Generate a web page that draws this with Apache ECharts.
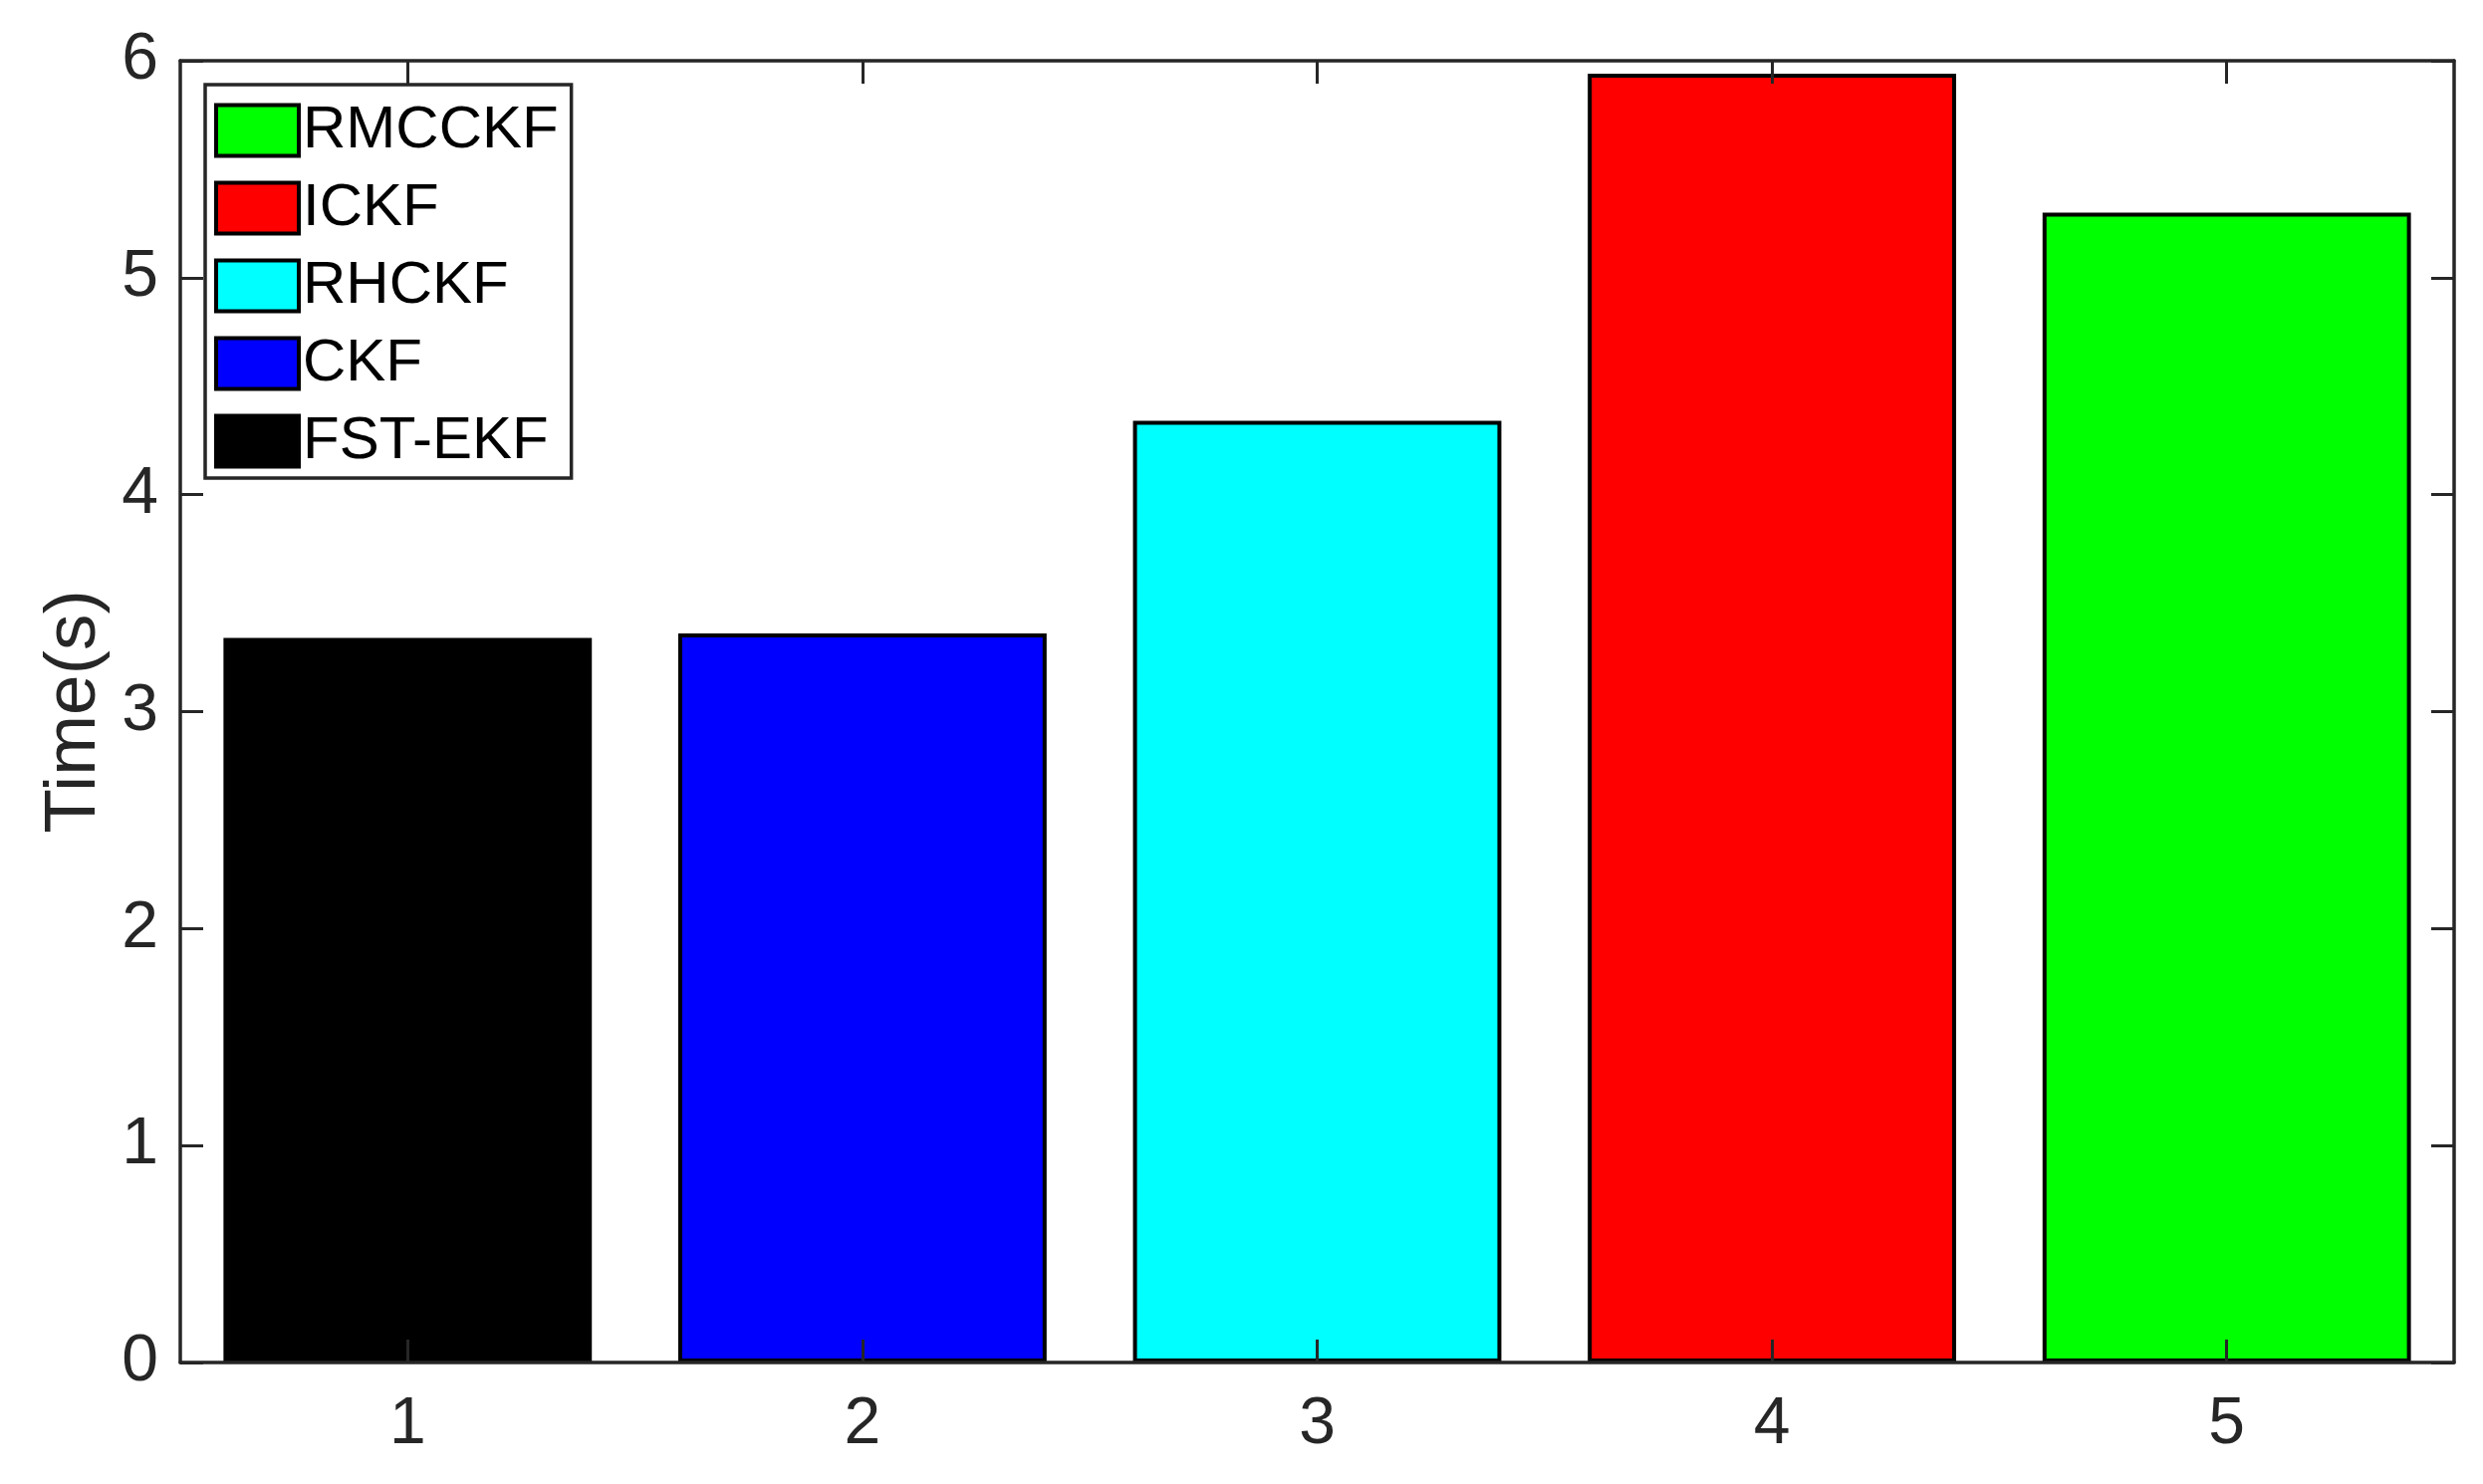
<!DOCTYPE html>
<html>
<head>
<meta charset="utf-8">
<script src="https://cdn.jsdelivr.net/npm/echarts@6/dist/echarts.min.js"></script>
<style>
html,body{margin:0;padding:0;background:#fff;}
#main{width:2493px;height:1490px;}
</style>
</head>
<body>
<div id="main"></div>
<script>
// tick labels of the x axis
var categories = ["1", "2", "3", "4", "5"];
// one bar per filter, in plotting order
var filterNames = ["FST-EKF", "CKF", "RHCKF", "ICKF", "RMCCKF"];
var filterTimes = [3.34, 3.36, 4.34, 5.94, 5.30];
var filterColors = ["#000000", "#0000ff", "#00ffff", "#ff0000", "#00ff00"];
// legend is listed top-down like the figure
var legendOrder = ["RMCCKF", "ICKF", "RHCKF", "CKF", "FST-EKF"];

var axisColor = "#262626";
var fontName = "Liberation Sans";

var myChart = echarts.init(document.getElementById("main"));

var series = [];
for (var i = 0; i < filterNames.length; i++) {
    var data = [];
    for (var j = 0; j < categories.length; j++) {
        data.push(j == i ? filterTimes[i] : "-");
    }
    series.push({
        name: filterNames[i],
        type: "bar",
        stack: "all",
        barWidth: "81%",
        data: data,
        itemStyle: {
            color: filterColors[i],
            borderColor: "#000000",
            borderWidth: 4
        },
        emphasis: {disabled: true}
    });
}

var xAxisBase = {
    type: "category",
    data: categories,
    boundaryGap: true,
    z: 10,
    axisLine: {show: true, onZero: false, lineStyle: {color: axisColor, width: 3.5}},
    axisTick: {show: true, inside: true, alignWithLabel: true, length: 23, lineStyle: {color: axisColor, width: 3}},
    splitLine: {show: false}
};
var yAxisBase = {
    type: "value",
    min: 0,
    max: 6,
    interval: 1,
    z: 10,
    axisLine: {show: true, onZero: false, lineStyle: {color: axisColor, width: 3.5}},
    axisTick: {show: true, inside: true, length: 23, lineStyle: {color: axisColor, width: 3}},
    splitLine: {show: false}
};

var option = {
    backgroundColor: "#ffffff",
    animation: false,
    grid: {left: 181, right: 29, top: 61, bottom: 122, containLabel: false},
    legend: {
        data: legendOrder,
        orient: "vertical",
        left: 206,
        top: 85,
        z: 20,
        icon: "rect",
        itemWidth: 83,
        itemHeight: 51,
        itemGap: 18,
        padding: [16, 13, 7, 9],
        backgroundColor: "#ffffff",
        borderColor: axisColor,
        borderWidth: 3.5,
        borderRadius: 0,
        itemStyle: {borderColor: "#000000", borderWidth: 4},
        textStyle: {fontFamily: fontName, fontSize: 60, color: "#000000", padding: [0, 0, 0, -1]},
        selectedMode: false
    },
    xAxis: [
        Object.assign({}, xAxisBase, {
            position: "bottom",
            axisLabel: {fontFamily: fontName, fontSize: 66, color: axisColor, margin: 30}
        }),
        Object.assign({}, xAxisBase, {
            position: "top",
            axisLabel: {show: false}
        })
    ],
    yAxis: [
        Object.assign({}, yAxisBase, {
            position: "left",
            name: "Time(s)",
            nameLocation: "middle",
            nameRotate: 90,
            nameGap: 68,
            nameTextStyle: {fontFamily: fontName, fontSize: 73, color: axisColor},
            axisLabel: {fontFamily: fontName, fontSize: 66, color: axisColor, margin: 22}
        }),
        Object.assign({}, yAxisBase, {
            position: "right",
            axisLabel: {show: false}
        })
    ],
    series: series
};

myChart.setOption(option);
</script>
</body>
</html>
